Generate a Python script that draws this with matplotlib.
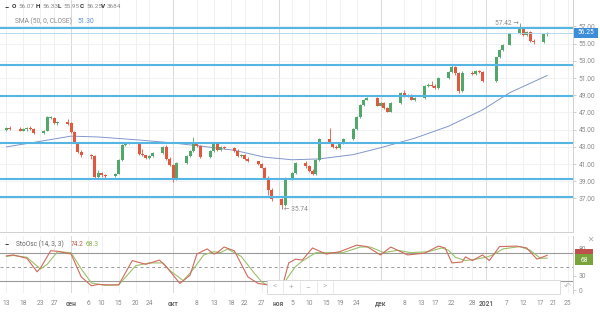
import numpy as np
import pandas as pd
import matplotlib
matplotlib.use("Agg")
import matplotlib.pyplot as plt
import matplotlib.dates as mdates
from matplotlib.patches import Rectangle

plt.rcParams['font.family'] = ['Roboto', 'DejaVu Sans']

# trading days (exchange holidays removed)
holidays = ['2020-11-04', '2021-01-01', '2021-01-07']
days = pd.bdate_range('2020-08-13', '2021-01-19').drop(pd.to_datetime(holidays))

opens = [45.0, 45.2, 45.1, 44.9, 45.1, 45.2, 45.1, 44.6, 44.9, 46.4, 46.4, 45.8, 45.9,
         45.8, 44.7, 43.5, 42.4, 42.0, 41.9, 39.5, 40.0, 39.7, 39.6, 39.9, 41.5, 43.2, 43.5,
         43.4, 42.2, 42.0, 41.7, 41.9, 42.3, 43.0, 41.6,
         40.9, 39.2, 41.1, 41.9, 42.5, 43.4, 43.1, 41.8, 42.5, 43.3, 42.6, 43.0, 42.9, 42.5,
         41.9, 42.1, 41.6, 41.3, 41.0, 40.6, 39.4, 38.0,
         36.9, 36.2, 39.4, 40.0, 41.1, 40.8, 40.2, 39.8, 41.5, 43.9, 43.5, 43.0, 42.9, 43.4,
         43.9, 45.1, 46.5, 47.9, 48.5, 48.7,
         47.8, 48.1, 47.5, 47.1, 48.1, 49.3, 48.9, 49.0, 48.5, 48.7, 50.1, 50.2, 50.1, 49.8,
         51.0, 51.7, 52.3, 51.6, 49.5, 51.6, 51.5, 51.8, 51.7,
         50.7, 53.4, 54.3, 54.9, 56.2, 56.8, 56.0, 56.4, 55.3, 55.2, 56.07]
highs = [45.3, 45.4, 45.3, 45.2, 45.3, 45.4, 45.2, 45.0, 46.6, 46.6, 46.5, 46.0, 46.2,
         45.9, 44.9, 43.6, 42.6, 42.2, 42.0, 40.3, 40.1, 39.9, 40.0, 41.6, 43.3, 43.6, 43.6,
         43.5, 42.8, 42.1, 42.0, 42.4, 43.1, 43.2, 41.8,
         41.0, 41.2, 42.0, 42.6, 44.1, 43.6, 43.2, 42.6, 43.4, 43.4, 43.1, 43.1, 43.0, 42.7,
         42.2, 42.2, 41.8, 41.4, 41.1, 40.7, 39.6, 38.2,
         37.0, 39.5, 40.1, 41.2, 41.3, 40.9, 40.4, 41.6, 44.0, 45.2, 43.6, 43.2, 43.5, 44.0,
         45.2, 46.6, 48.0, 48.6, 48.8, 48.8,
         48.2, 48.2, 47.6, 48.2, 49.4, 49.6, 49.1, 49.1, 48.8, 50.2, 50.4, 50.7, 50.3, 51.1,
         51.8, 52.5, 52.4, 51.7, 51.8, 51.8, 51.9, 51.9, 51.8,
         53.5, 54.4, 55.0, 56.3, 57.42, 56.9, 56.5, 56.5, 55.5, 56.1, 56.33]
lows = [44.9, 45.0, 44.8, 44.8, 44.9, 45.0, 44.5, 44.5, 44.9, 46.2, 45.7, 45.6, 45.6,
        44.6, 43.4, 42.3, 41.8, 41.6, 39.4, 39.4, 39.5, 39.4, 39.5, 39.8, 41.4, 43.1, 43.3,
        42.0, 41.9, 41.6, 41.6, 41.8, 42.2, 41.5, 40.8,
        38.9, 39.1, 41.0, 41.8, 42.4, 43.0, 41.7, 41.7, 42.4, 42.5, 42.5, 42.7, 42.4, 41.8,
        41.8, 41.5, 41.2, 40.9, 40.5, 39.3, 37.4, 36.7,
        35.74, 36.1, 39.2, 39.9, 40.6, 40.1, 39.7, 39.7, 41.4, 43.4, 42.9, 42.8, 42.8, 43.3,
        43.8, 45.0, 46.4, 47.8, 48.4, 47.7,
        47.7, 47.4, 47.0, 47.0, 48.0, 48.8, 48.8, 48.4, 48.3, 48.6, 50.0, 50.0, 49.7, 49.7,
        50.9, 51.6, 51.4, 49.3, 49.4, 51.3, 51.4, 51.6, 50.6,
        50.6, 53.3, 54.2, 54.8, 56.1, 55.9, 55.9, 55.2, 55.0, 55.1, 55.95]
closes = [45.2, 45.1, 44.9, 45.1, 45.2, 45.1, 44.6, 44.9, 46.5, 46.5, 45.8, 45.9, 45.7,
          44.7, 43.5, 42.4, 42.0, 41.9, 39.5, 40.0, 39.7, 39.6, 39.9, 41.5, 43.2, 43.5, 43.4,
          42.2, 42.0, 41.7, 41.9, 42.3, 43.0, 41.6, 40.9,
          39.2, 41.1, 41.9, 42.5, 43.4, 43.1, 41.8, 42.5, 43.3, 42.6, 43.0, 42.9, 42.5, 41.9,
          42.1, 41.6, 41.3, 41.0, 40.6, 39.4, 38.0, 36.9,
          36.2, 39.4, 40.0, 41.1, 40.8, 40.2, 39.8, 41.5, 43.9, 43.5, 43.0, 42.9, 43.4, 43.9,
          45.1, 46.5, 47.9, 48.5, 48.7, 47.8,
          48.1, 47.5, 47.1, 48.1, 49.3, 48.9, 49.0, 48.5, 48.7, 50.1, 50.2, 50.1, 49.8, 51.0,
          51.7, 52.3, 51.6, 49.5, 51.6, 51.5, 51.8, 51.7, 50.7,
          53.4, 54.3, 54.9, 56.2, 56.8, 56.0, 56.4, 55.3, 55.2, 56.07, 56.25]

sma_dates = ['2020-08-13', '2020-08-20', '2020-09-01', '2020-09-09', '2020-09-21', '2020-10-01',
             '2020-10-09', '2020-10-19', '2020-10-28', '2020-11-05', '2020-11-13', '2020-11-23',
             '2020-12-01', '2020-12-11', '2020-12-21', '2020-12-31', '2021-01-08', '2021-01-19']
sma_vals = [43.0, 43.45, 44.25, 44.15, 43.8, 43.45, 43.1, 42.6, 41.8, 41.5, 41.6, 42.1,
            42.9, 44.0, 45.4, 47.3, 49.3, 51.3]

levels = [56.85, 52.55, 48.95, 43.45, 39.3, 37.15]
last_price = 56.25

k_dates = ['2020-08-13', '2020-08-15', '2020-08-19', '2020-08-22', '2020-08-23', '2020-08-26',
           '2020-08-28', '2020-09-01', '2020-09-04', '2020-09-07', '2020-09-09', '2020-09-12',
           '2020-09-15', '2020-09-19', '2020-09-23', '2020-09-27', '2020-09-29', '2020-10-03',
           '2020-10-06', '2020-10-08', '2020-10-11', '2020-10-13', '2020-10-14', '2020-10-16',
           '2020-10-19', '2020-10-23', '2020-10-26', '2020-10-28', '2020-11-02', '2020-11-04',
           '2020-11-06', '2020-11-08', '2020-11-11', '2020-11-15', '2020-11-19', '2020-11-24',
           '2020-11-27', '2020-12-01', '2020-12-04', '2020-12-09', '2020-12-14', '2020-12-18',
           '2020-12-20', '2020-12-22', '2020-12-25', '2020-12-26', '2020-12-28', '2020-12-31',
           '2021-01-02', '2021-01-05', '2021-01-10', '2021-01-13', '2021-01-16', '2021-01-19']
k_vals = [73, 75, 68, 39, 47, 84, 83, 77, 28, 9, 12, 11, 11, 63, 55, 64, 50, 14,
          32, 77, 88, 77, 80, 92, 84, 28, 14, 12, 4, 58, 66, 64, 90, 77, 82, 96,
          93, 75, 92, 75, 79, 94, 90, 58, 60, 71, 63, 75, 63, 93, 94, 90, 66, 74.2]

d_dates = ['2020-08-13', '2020-08-15', '2020-08-19', '2020-08-23', '2020-08-25', '2020-08-28',
           '2020-09-01', '2020-09-04', '2020-09-07', '2020-09-11', '2020-09-15', '2020-09-20',
           '2020-09-24', '2020-09-28', '2020-09-30', '2020-10-04', '2020-10-07', '2020-10-10',
           '2020-10-13', '2020-10-15', '2020-10-17', '2020-10-21', '2020-10-25', '2020-10-27',
           '2020-10-28', '2020-11-02', '2020-11-04', '2020-11-06', '2020-11-08', '2020-11-12',
           '2020-11-16', '2020-11-20', '2020-11-25', '2020-11-28', '2020-12-02', '2020-12-06',
           '2020-12-10', '2020-12-15', '2020-12-19', '2020-12-21', '2020-12-23', '2020-12-26',
           '2020-12-29', '2021-01-01', '2021-01-03', '2021-01-06', '2021-01-11', '2021-01-14',
           '2021-01-17', '2021-01-19']
d_vals = [72, 74, 70, 45, 55, 82, 80, 45, 15, 10, 11, 52, 58, 58, 42, 20, 45, 75,
          82, 80, 88, 72, 35, 18, 13, 8, 30, 50, 62, 80, 80, 80, 92, 92, 80, 85,
          80, 82, 90, 85, 70, 63, 66, 70, 75, 88, 93, 85, 68, 68.3]

tick_dates = ['2020-08-13', '2020-08-18', '2020-08-23', '2020-08-27', '2020-09-01', '2020-09-06',
              '2020-09-10', '2020-09-15', '2020-09-20', '2020-09-24', '2020-10-01', '2020-10-08',
              '2020-10-13', '2020-10-18', '2020-10-22', '2020-10-27', '2020-11-01', '2020-11-05',
              '2020-11-10', '2020-11-15', '2020-11-19', '2020-11-24', '2020-12-01', '2020-12-08',
              '2020-12-13', '2020-12-17', '2020-12-22', '2020-12-28', '2021-01-01', '2021-01-07',
              '2021-01-12', '2021-01-17', '2021-01-21', '2021-01-25']
tick_labels = ['13', '18', '23', '27', 'сен', '6', '10', '15', '20', '24', 'окт', '8', '13',
               '18', '22', '27', 'ноя', '5', '10', '15', '19', '24', 'дек', '8', '13', '17',
               '22', '28', '2021', '7', '12', '17', '21', '25']
month_labels = ['сен', 'окт', 'ноя', 'дек', '2021']

GREEN = '#52a86b'
RED = '#e4573f'
LEVEL = '#55b5e3'
GRID = '#f0f0f0'
TXT = '#8a8a8a'
FS = 4.8


def fp(x, y):
    return x / 600, 1 - y / 314


fig = plt.figure(figsize=(6, 3.14), dpi=100)
fig.patch.set_facecolor('white')
ax = fig.add_axes([0, 1 - 232 / 314, 573 / 600, 232 / 314])
ax2 = fig.add_axes([0, 1 - 293 / 314, 573 / 600, 57 / 314], sharex=ax)

x = mdates.date2num(days)
o = np.array(opens)
c = np.array(closes)
colors = np.where(c >= o, GREEN, RED)
ax.vlines(x, lows, highs, color=colors, lw=0.6, zorder=3)
ax.bar(x, np.maximum(np.abs(c - o), 0.08), width=0.9, bottom=np.minimum(o, c),
       color=colors, linewidth=0, zorder=4)

ax.plot(mdates.date2num(pd.to_datetime(sma_dates)), sma_vals, color='#8197c9', lw=0.7, zorder=2)
for lv in levels:
    ax.axhline(lv, color=LEVEL, lw=1.5, zorder=5)
ax.axhline(last_price, color='#a9d6f0', lw=0.6, zorder=5)

xmin = mdates.date2num(pd.Timestamp('2020-08-11')) + 0.1
xmax = mdates.date2num(pd.Timestamp('2021-01-26')) + 0.6
ax.set_xlim(xmin, xmax)
ax.set_ylim(33.1, 60.08)

ticks = mdates.date2num(pd.to_datetime(tick_dates))
for t, lab in zip(ticks, tick_labels):
    col = '#d8d8d8' if lab in month_labels else GRID
    ax.axvline(t, color=col, lw=0.7, zorder=0)
    ax2.axvline(t, color=col, lw=0.7, zorder=0)

ax.set_yticks(np.arange(37, 58, 2))
ax.set_yticklabels(['%.2f' % v for v in np.arange(37, 58, 2)])
ax.yaxis.tick_right()
ax.tick_params(axis='y', length=2.5, width=0.5, color='#bbbbbb', labelsize=FS,
               labelcolor=TXT, pad=1.5)
ax.tick_params(axis='x', length=0, labelbottom=False)
ax.grid(axis='y', color=GRID, lw=0.6)
ax.set_axisbelow(True)
for s in ['top', 'left']:
    ax.spines[s].set_visible(False)
ax.spines['right'].set_color('#d0d0d0')
ax.spines['bottom'].set_color('#d0d0d0')
ax.spines['right'].set_linewidth(0.7)
ax.spines['bottom'].set_linewidth(0.7)

# annotations of extreme values
jan11 = mdates.date2num(pd.Timestamp('2021-01-11'))
nov2 = mdates.date2num(pd.Timestamp('2020-11-02'))
ax.text(jan11 - 0.3, 57.35, '57.42 \u2192', ha='right', va='center', fontsize=FS, color=TXT, zorder=6)
ax.text(nov2 + 0.6, 35.7, '\u2190 35.74', ha='left', va='center', fontsize=FS, color=TXT, zorder=6)

# stochastic panel
ax2.plot(mdates.date2num(pd.to_datetime(d_dates)), d_vals, color='#9cc06a', lw=0.8, zorder=3)
ax2.plot(mdates.date2num(pd.to_datetime(k_dates)), k_vals, color='#cf6a5c', lw=0.8, zorder=4)
ax2.axhline(80, color='#9a9a9a', lw=0.8, zorder=2)
ax2.axhline(20, color='#9a9a9a', lw=0.8, zorder=2)
ax2.axhline(50, color='#9a9a9a', lw=0.7, ls=(0, (3, 3)), zorder=2)
ax2.set_ylim(-6.4, 115.6)
ax2.yaxis.tick_right()
ax2.set_yticks([0, 30, 80])
ax2.tick_params(axis='y', length=2.5, width=0.5, color='#bbbbbb', labelsize=FS,
                labelcolor=TXT, pad=1.5)
for lab in ax2.get_yticklabels():
    if lab.get_text() == '80':
        lab.set_va('bottom')
ax2.set_xticks(ticks)
ax2.set_xticklabels(tick_labels)
ax2.tick_params(axis='x', length=0, labelsize=FS, labelcolor=TXT, pad=5)
for lab in ax2.get_xticklabels():
    if lab.get_text() in month_labels:
        lab.set_fontweight('bold')
        lab.set_color('#666666')
for s in ['top', 'left', 'bottom']:
    ax2.spines[s].set_visible(False)
ax2.spines['right'].set_color('#d0d0d0')
ax2.spines['right'].set_linewidth(0.7)

# header texts
hy = 7
fig.text(*fp(4, hy), '\u2212', fontsize=5.5, color='#333333', va='center', fontweight='bold')
items = [(12, 'O', True), (18, '56.07', False), (36, 'H', True), (42, '56.33', False),
         (58, 'L', True), (63, '55.95', False), (80, 'C', True), (86, '56.25', False),
         (101, 'V', True), (107, '3684', False)]
for xx, s, b in items:
    fig.text(*fp(xx, hy), s, fontsize=4.6, va='center',
             color='#333333' if b else TXT, fontweight='bold' if b else 'normal')
fig.text(*fp(15, 21.5), 'SMA (50, 0, CLOSE)', fontsize=FS, va='center', color=TXT)
fig.text(*fp(77, 21.5), '51.30', fontsize=FS, va='center', color='#5b8fd0')

fig.text(*fp(4, 244), '\u2212', fontsize=5.5, color='#333333', va='center', fontweight='bold')
fig.text(*fp(16, 244), 'StoOsc (14, 3, 3)', fontsize=FS, va='center', color='#666666')
fig.text(*fp(71, 244), '74.2', fontsize=FS, va='center', color='#c65a50')
fig.text(*fp(86, 244), '68.3', fontsize=FS, va='center', color='#8ab04c')
fig.text(*fp(590, 240), '\u2715', fontsize=5.5, va='center', ha='center', color='#aaaaaa')

# price marker on the axis
fig.add_artist(Rectangle(fp(574, 38), 24 / 600, 10 / 314, transform=fig.transFigure,
                         facecolor='#3d8ed8', edgecolor='none'))
fig.text(*fp(586, 33), '56.25', fontsize=FS, ha='center', va='center', color='white')
# stochastic value markers
fig.add_artist(Rectangle(fp(575, 254), 18 / 600, 5 / 314, transform=fig.transFigure,
                         facecolor='#c0504d', edgecolor='none'))
fig.add_artist(Rectangle(fp(575, 265), 18 / 600, 11 / 314, transform=fig.transFigure,
                         facecolor='#79a33b', edgecolor='none'))
fig.text(*fp(584, 260), '68', fontsize=FS, ha='center', va='center', color='white')

# navigation overlay
fig.add_artist(Rectangle(fp(267, 294), 293 / 600, 14 / 314, transform=fig.transFigure,
                         facecolor='white', edgecolor='#d6d6d6', lw=0.6, zorder=10))
for sx in [283, 300, 317, 333]:
    fig.add_artist(plt.Line2D([sx / 600, sx / 600], [1 - 281 / 314, 1 - 293 / 314],
                              transform=fig.transFigure, color='#e2e2e2', lw=0.5, zorder=11))
for xx, s in [(275, '<'), (291, '+'), (308, '\u2212'), (325, '>'), (567, '\u21b6')]:
    fig.text(*fp(xx, 287), s, fontsize=6, ha='center', va='center', color='#b5b5b5', zorder=12)

fig.savefig('out.png', dpi=100)
